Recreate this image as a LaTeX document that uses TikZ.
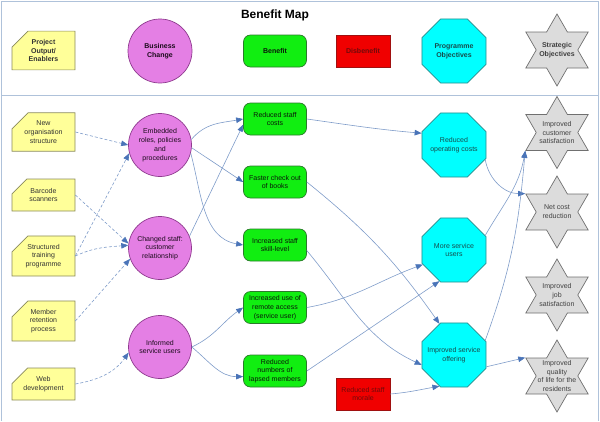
\documentclass[tikz,border=0pt]{standalone}
\usepackage{fontspec}
\setmainfont{Liberation Sans}
\usepackage{xcolor}
\usepackage{tikz}
\usetikzlibrary{shapes.geometric,shapes.misc,arrows.meta}

\definecolor{framecol}{HTML}{AFC2DA}
\definecolor{enablerfill}{HTML}{FFFF99}
\definecolor{enablerline}{HTML}{8A8A5C}
\definecolor{changefill}{HTML}{E47FE4}
\definecolor{changeline}{HTML}{8E3A8E}
\definecolor{benefitfill}{HTML}{11EE11}
\definecolor{benefitline}{HTML}{2B7A2B}
\definecolor{disfill}{HTML}{F00000}
\definecolor{disline}{HTML}{A01010}
\definecolor{objfill}{HTML}{00FFFF}
\definecolor{objline}{HTML}{2A8A8A}
\definecolor{stratfill}{HTML}{DCDCDC}
\definecolor{stratline}{HTML}{707070}
\definecolor{linkcol}{HTML}{7F9CC9}
\definecolor{tipcol}{HTML}{4A74B8}

\begin{document}
\begin{tikzpicture}[x=1pt, y=-1pt,
    every node/.style={font=\fontsize{7}{8.8}\selectfont, align=center},
    hdr/.style={font=\fontsize{7}{8.8}\selectfont\bfseries},
    enabler/.style={chamfered rectangle, chamfered rectangle corners=north west,
        chamfered rectangle xsep=8pt, chamfered rectangle ysep=8pt,
        draw=enablerline, fill=enablerfill, line width=0.7pt,
        minimum width=63pt, minimum height=32pt, inner sep=0pt, text=black!80},
    change/.style={circle, draw=changeline, fill=changefill, line width=0.7pt,
        minimum size=63pt, inner sep=0pt, text=black!80!changeline},
    benefit/.style={rectangle, rounded corners=7pt, draw=benefitline, fill=benefitfill,
        line width=0.7pt, minimum width=63pt, minimum height=32pt, inner sep=1pt,
        text=black!80!benefitline},
    disbenefit/.style={rectangle, draw=disline, fill=disfill, line width=0.7pt,
        minimum width=54pt, minimum height=32pt, inner sep=1pt, text=disline!70!black},
    objective/.style={regular polygon, regular polygon sides=8, draw=objline, fill=objfill,
        line width=0.7pt, minimum size=69.3pt, inner sep=0pt},
    objtext/.style={text=objline!55!black},
    strategic/.style={star, star points=6, star point ratio=1.732, draw=stratline,
        fill=stratfill, line width=0.7pt, minimum size=72pt, inner sep=0pt},
    strattext/.style={text=black!75},
    link/.style={draw=linkcol, line width=0.6pt, -{Triangle[length=7pt,width=5.5pt,color=tipcol]}},
    weaklink/.style={link, dash pattern=on 3pt off 2pt}
]
    \useasboundingbox (0,0) rectangle (600,421);

    % Frame and title
    \draw[framecol, line width=0.8pt] (1,1) rectangle (598,95);
    \draw[framecol, line width=0.8pt] (1,421) -- (1,95) -- (598,95) -- (598,421);
    \node[font=\fontsize{12}{14}\selectfont\bfseries] (title) at (275,15) {Benefit Map};

    % Key row
    \node[enabler, hdr, minimum height=34pt] (hen) at (43.5,50.5) {Project\\Output/\\Enablers};
    \node[change, hdr, minimum size=64pt] (hbc) at (160,51) {Business\\Change};
    \node[benefit, hdr] (hbf) at (275,51) {Benefit};
    \node[disbenefit, hdr] (hdb) at (363,51) {Disbenefit};
    \node[objective, label={[hdr, objtext]center:{Programme\\Objectives}}] (hpo) at (454,51) {};
    \node[strategic, label={[hdr, strattext]center:{Strategic\\Objectives}}] (hso) at (557,50) {};

    % Enablers
    \node[enabler] (nos) at (43.5,132) {New\\organisation\\structure};
    \node[enabler] (bcs) at (43.5,195) {Barcode\\scanners};
    \node[enabler] (stp) at (43.5,256) {Structured\\training\\programme};
    \node[enabler] (mrp) at (43.5,321) {Member\\retention\\process};
    \node[enabler] (wdv) at (43.5,384) {Web\\development};

    % Business changes
    \node[change] (emb) at (160,145) {Embedded\\roles, policies\\and\\procedures};
    \node[change] (chg) at (160,248) {Changed staff:\\customer\\relationship};
    \node[change] (inf) at (160,347) {Informed\\service users};

    % Benefits and disbenefit
    \node[benefit] (rsc) at (275,119) {Reduced staff\\costs};
    \node[benefit] (fco) at (275,182) {Faster check out\\of books};
    \node[benefit] (isk) at (275,245) {Increased staff\\skill-level};
    \node[benefit] (iur) at (275,307.5) {Increased use of\\remote access\\(service user)};
    \node[benefit] (rnl) at (275,371) {Reduced\\numbers of\\lapsed members};
    \node[disbenefit] (rsm) at (363,394) {Reduced staff\\morale};

    % Programme objectives
    \node[objective, label={[objtext]center:{Reduced\\operating costs}}] (roc) at (454,145) {};
    \node[objective, label={[objtext]center:{More service\\users}}] (msu) at (454,250) {};
    \node[objective, label={[objtext]center:{Improved service\\offering}}] (iso) at (454,355) {};

    % Strategic objectives
    \node[strategic, label={[strattext]center:{Improved\\customer\\satisfaction}}] (ics) at (557,132.5) {};
    \node[strategic, label={[strattext]center:{Net cost\\reduction}}] (ncr) at (557,212) {};
    \node[strategic, label={[strattext]center:{Improved\\job\\satisfaction}}] (ijs) at (557,295) {};
    \node[strategic, label={[strattext]center:{Improved\\quality\\of life for the\\residents}}] (iql) at (557,376) {};

    % Enablers -> business changes
    \draw[weaklink] (nos.east) -- (emb.180);
    \draw[weaklink] (bcs.east) -- (chg.172);
    \draw[weaklink] (stp.east) -- (emb.195);
    \draw[weaklink] (stp.east) to[out=25, in=185] (chg.175);
    \draw[weaklink] (mrp.east) -- (chg.200);
    \draw[weaklink] (wdv.east) to[out=10, in=235] (inf.190);

    % Business changes -> benefits
    \draw[link] (emb.10) to[out=50, in=190] (rsc.west);
    \draw[link] (emb.-5) -- (fco.west);
    \draw[link] (emb.-15) to[out=-75, in=170] (isk.west);
    \draw[link] (chg.22) -- (rsc.190);
    \draw[link] (inf.0) to[out=25, in=215] (iur.west);
    \draw[link] (inf.0) to[out=-40, in=180] (rnl.190);

    % Benefits -> programme objectives
    \draw[link] (rsc.east) to[out=-8, in=175] (roc.160);
    \draw[link] (fco.east) to[bend left=8] (iso.115);
    \draw[link] (isk.-10) to[out=-50, in=155] (iso.197);
    \draw[link] (iur.east) to[out=10, in=200] (msu.205);
    \draw[link] (rnl.east) -- (msu.245);
    \draw[link] (rsm.east) to[out=5, in=190] (iso.245);

    % Programme objectives -> strategic objectives
    \draw[link] (roc.-25) to[out=-80, in=180] (ncr.150);
    \draw[link] (msu.25) to[out=60, in=-100] (ics.210);
    \draw[link] (iso.25) to[out=70, in=-95] (ics.210);
    \draw[link] (iso.-20) -- (iql.150);
\end{tikzpicture}
\end{document}
